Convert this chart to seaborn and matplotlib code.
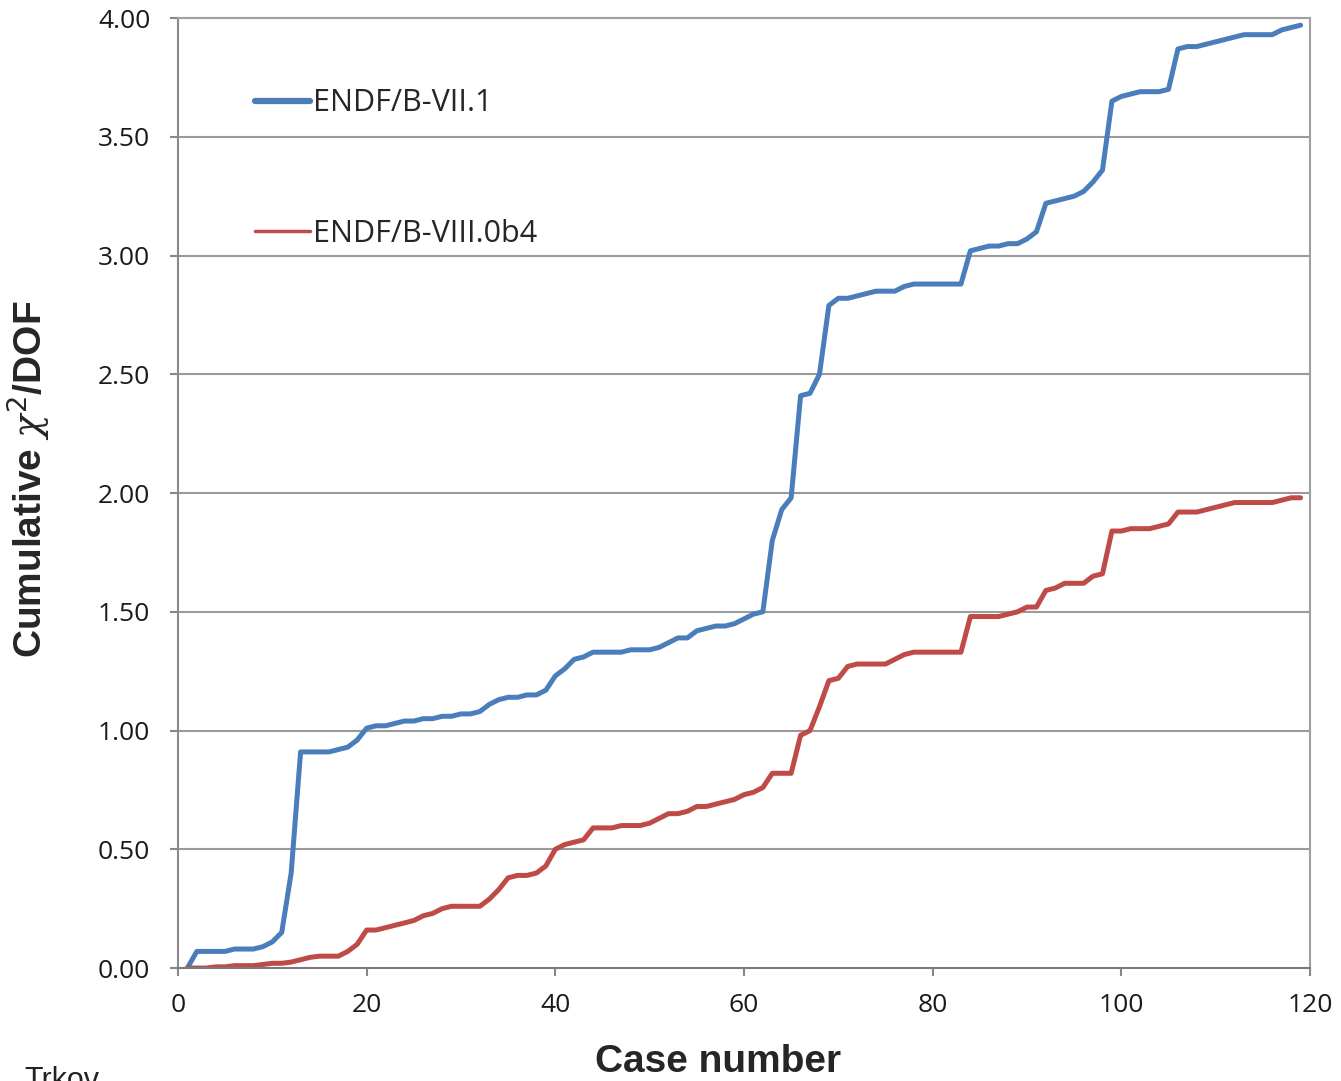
import numpy as np
import pandas as pd
import matplotlib
matplotlib.use("Agg")
import matplotlib.pyplot as plt
import seaborn as sns
from matplotlib.lines import Line2D

cases = list(range(1, 120))

endf71 = [0.00, 0.07, 0.07, 0.07, 0.07, 0.08, 0.08, 0.08, 0.09, 0.11,
          0.15, 0.40, 0.91, 0.91, 0.91, 0.91, 0.92, 0.93, 0.96, 1.01,
          1.02, 1.02, 1.03, 1.04, 1.04, 1.05, 1.05, 1.06, 1.06, 1.07,
          1.07, 1.08, 1.11, 1.13, 1.14, 1.14, 1.15, 1.15, 1.17, 1.23,
          1.26, 1.30, 1.31, 1.33, 1.33, 1.33, 1.33, 1.34, 1.34, 1.34,
          1.35, 1.37, 1.39, 1.39, 1.42, 1.43, 1.44, 1.44, 1.45, 1.47,
          1.49, 1.50, 1.80, 1.93, 1.98, 2.41, 2.42, 2.50, 2.79, 2.82,
          2.82, 2.83, 2.84, 2.85, 2.85, 2.85, 2.87, 2.88, 2.88, 2.88,
          2.88, 2.88, 2.88, 3.02, 3.03, 3.04, 3.04, 3.05, 3.05, 3.07,
          3.10, 3.22, 3.23, 3.24, 3.25, 3.27, 3.31, 3.36, 3.65, 3.67,
          3.68, 3.69, 3.69, 3.69, 3.70, 3.87, 3.88, 3.88, 3.89, 3.90,
          3.91, 3.92, 3.93, 3.93, 3.93, 3.93, 3.95, 3.96, 3.97]

endf80b4 = [0.00, 0.00, 0.00, 0.005, 0.005, 0.01, 0.01, 0.01, 0.015, 0.02,
            0.02, 0.025, 0.035, 0.045, 0.05, 0.05, 0.05, 0.07, 0.10, 0.16,
            0.16, 0.17, 0.18, 0.19, 0.20, 0.22, 0.23, 0.25, 0.26, 0.26,
            0.26, 0.26, 0.29, 0.33, 0.38, 0.39, 0.39, 0.40, 0.43, 0.50,
            0.52, 0.53, 0.54, 0.59, 0.59, 0.59, 0.60, 0.60, 0.60, 0.61,
            0.63, 0.65, 0.65, 0.66, 0.68, 0.68, 0.69, 0.70, 0.71, 0.73,
            0.74, 0.76, 0.82, 0.82, 0.82, 0.98, 1.00, 1.10, 1.21, 1.22,
            1.27, 1.28, 1.28, 1.28, 1.28, 1.30, 1.32, 1.33, 1.33, 1.33,
            1.33, 1.33, 1.33, 1.48, 1.48, 1.48, 1.48, 1.49, 1.50, 1.52,
            1.52, 1.59, 1.60, 1.62, 1.62, 1.62, 1.65, 1.66, 1.84, 1.84,
            1.85, 1.85, 1.85, 1.86, 1.87, 1.92, 1.92, 1.92, 1.93, 1.94,
            1.95, 1.96, 1.96, 1.96, 1.96, 1.96, 1.97, 1.98, 1.98]

series_names = ["ENDF/B-VII.1", "ENDF/B-VIII.0b4"]
colors = ["#4A7EBB", "#BE4B48"]
x_ticks = [0, 20, 40, 60, 80, 100, 120]
y_ticks = [0.0, 0.5, 1.0, 1.5, 2.0, 2.5, 3.0, 3.5, 4.0]

df = pd.DataFrame({
    "case": cases * 2,
    "value": endf71 + endf80b4,
    "series": [series_names[0]] * len(cases) + [series_names[1]] * len(cases),
})

sns.set_theme(style="white")
plt.rcParams["font.family"] = ["Open Sans", "DejaVu Sans"]
plt.rcParams["mathtext.fontset"] = "custom"
plt.rcParams["mathtext.it"] = "DejaVu Serif:italic"

fig = plt.figure(figsize=(13.41, 10.81), dpi=100)
ax = fig.add_axes([0.1327, 0.1045, 0.8442, 0.8788])

sns.lineplot(data=df, x="case", y="value", hue="series", palette=colors,
             linewidth=3.6, ax=ax, legend=False)

ax.set_xlim(0, 120)
ax.set_ylim(0, 4)
ax.set_xticks(x_ticks)
ax.set_yticks(y_ticks)
ax.set_yticklabels([f"{v:.2f}" for v in y_ticks])
ax.tick_params(axis="both", labelsize=19, colors="#1a1a1a", length=6,
               width=1.5, direction="out", color="#888888", left=True, bottom=True)
ax.tick_params(axis="x", pad=12)
ax.tick_params(axis="y", pad=14)

for y in y_ticks[1:]:
    ax.axhline(y, color="#9a9a9a", linewidth=1.5, zorder=0)

for side, sp in ax.spines.items():
    sp.set_visible(True)
    sp.set_color("#a0a0a0")
    sp.set_linewidth(1.5)
ax.spines["bottom"].set_color("#7a7a7a")
ax.spines["left"].set_color("#8a8a8a")

ax.set_xlabel("Case number", fontsize=28, fontweight="bold",
              family=["Liberation Sans", "DejaVu Sans"])
ax.set_ylabel(r"Cumulative $\chi^2$/DOF", fontsize=28, fontweight="bold",
              family=["Liberation Sans", "DejaVu Sans"])
ax.xaxis.set_label_coords(0.477, -0.080)
ax.yaxis.set_label_coords(-0.112, 0.514)

handles = [Line2D([0], [0], color=colors[0], linewidth=4.5),
           Line2D([0], [0], color=colors[1], linewidth=2.5)]
ax.legend(handles, series_names, loc="upper left", bbox_to_anchor=(0.044, 0.955),
          frameon=False, labelspacing=3.3, handlelength=1.8,
          handletextpad=0.1, prop={"family": ["Open Sans", "DejaVu Sans"], "size": 22})

fig.text(0.018, 0.0, "Trkov", fontsize=22, color="#222222", va="center",
         family=["Liberation Sans", "DejaVu Sans"])

fig.savefig("out.png", dpi=100)
